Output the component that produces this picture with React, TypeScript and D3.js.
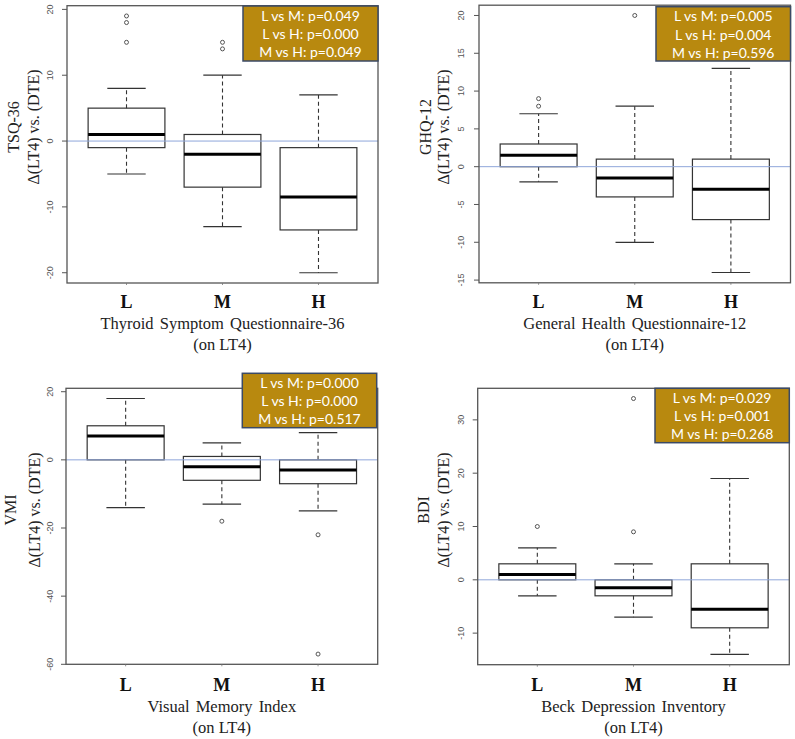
import React from "react";
import * as d3 from "d3";

const groups = ["L", "M", "H"];

// five-number summaries: [lowWhisker, Q1, median, Q3, highWhisker]
const tsqStats = [[-5, -1, 1, 5, 8], [-13, -7, -2, 1, 10], [-20, -13.5, -8.5, -1, 7]];
const tsqOutliers = [[15, 18, 19], [14, 15], []];
const tsqTicks = [-20, -10, 0, 10, 20];
const tsqP = ["L vs M: p=0.049", "L vs H: p=0.000", "M vs H: p=0.049"];

const ghqStats = [[-2, 0, 1.5, 3, 7], [-10, -4, -1.5, 1, 8], [-14, -7, -3, 1, 13]];
const ghqOutliers = [[8, 9], [20], []];
const ghqTicks = [-15, -10, -5, 0, 5, 10, 15, 20];
const ghqP = ["L vs M: p=0.005", "L vs H: p=0.004", "M vs H: p=0.596"];

const vmiStats = [[-14, 0, 7, 10, 18], [-13, -6, -2, 1, 5], [-15, -7, -3, 0, 8]];
const vmiOutliers = [[], [-18], [-22, -57]];
const vmiTicks = [-60, -40, -20, 0, 20];
const vmiP = ["L vs M: p=0.000", "L vs H: p=0.000", "M vs H: p=0.517"];

const bdiStats = [[-3, 0, 1, 3, 6], [-7, -3, -1.5, 0, 3], [-14, -9, -5.5, 3, 19]];
const bdiOutliers = [[10], [9, 34], []];
const bdiTicks = [-10, 0, 10, 20, 30];
const bdiP = ["L vs M: p=0.029", "L vs H: p=0.001", "M vs H: p=0.268"];

const panels = [
  {
    stats: tsqStats, outliers: tsqOutliers, ticks: tsqTicks, pvals: tsqP,
    domain: [-21.56, 20.56], short: "TSQ-36", title: "Thyroid Symptom Questionnaire-36",
    frame: { x0: 67, x1: 378, y0: 5.7, y1: 283 },
    legend: { x0: 243, x1: 378, y0: 6, y1: 61 },
    tickX: 50, labX: [13.5, 33], labY: 127, catY: 308, titleY: 329, subY: 350,
  },
  {
    stats: ghqStats, outliers: ghqOutliers, ticks: ghqTicks, pvals: ghqP,
    domain: [-15.36, 21.36], short: "GHQ-12", title: "General Health Questionnaire-12",
    frame: { x0: 479, x1: 790.5, y0: 5.2, y1: 282.8 },
    legend: { x0: 656, x1: 790.5, y0: 6.7, y1: 61 },
    tickX: 461, labX: [425, 443], labY: 127, catY: 308, titleY: 329, subY: 350,
  },
  {
    stats: vmiStats, outliers: vmiOutliers, ticks: vmiTicks, pvals: vmiP,
    domain: [-60, 21], short: "VMI", title: "Visual Memory Index",
    frame: { x0: 66, x1: 377.7, y0: 388.3, y1: 664.3 },
    legend: { x0: 242.3, x1: 376.7, y0: 373.3, y1: 427.7 },
    tickX: 50, labX: [10, 34], labY: 510, catY: 691, titleY: 712, subY: 733,
  },
  {
    stats: bdiStats, outliers: bdiOutliers, ticks: bdiTicks, pvals: bdiP,
    domain: [-15.92, 35.92], short: "BDI", title: "Beck Depression Inventory",
    frame: { x0: 477.7, x1: 789.3, y0: 388.3, y1: 664.7 },
    legend: { x0: 655, x1: 789.3, y0: 388.3, y1: 442.7 },
    tickX: 461, labX: [423, 443], labY: 510, catY: 691, titleY: 712, subY: 733,
  },
];

const SERIF = "'Liberation Serif', 'Times New Roman', serif";
const SANS = "'Liberation Sans', Arial, sans-serif";
const LEG = "Lato, 'Open Sans', sans-serif";

function Panel({ p }: { p: any }) {
  const { frame, legend } = p;
  const x = d3.scaleLinear().domain([0.38, 3.62]).range([frame.x0, frame.x1]);
  const y = d3.scaleLinear().domain(p.domain).range([frame.y1, frame.y0]);
  const bw = (x(1.4) - x(1)); // half box width (boxwex 0.8)
  const cw = (x(1.2) - x(1)); // half staple width
  const midX = (frame.x0 + frame.x1) / 2;
  return (
    <g>
      {/* boxes */}
      {p.stats.map((s: number[], i: number) => {
        const cx = x(i + 1);
        const [lo, q1, med, q3, hi] = s;
        return (
          <g key={i}>
            <line x1={cx} x2={cx} y1={y(q3)} y2={y(hi)} stroke="#333" strokeWidth={1.1} strokeDasharray="4,3" />
            <line x1={cx} x2={cx} y1={y(q1)} y2={y(lo)} stroke="#333" strokeWidth={1.1} strokeDasharray="4,3" />
            <line x1={cx - cw} x2={cx + cw} y1={y(hi)} y2={y(hi)} stroke="#333" strokeWidth={1.2} />
            <line x1={cx - cw} x2={cx + cw} y1={y(lo)} y2={y(lo)} stroke="#333" strokeWidth={1.2} />
            <rect x={cx - bw} width={2 * bw} y={y(q3)} height={y(q1) - y(q3)} fill="none" stroke="#333" strokeWidth={1.2} />
            <line x1={cx - bw} x2={cx + bw} y1={y(med)} y2={y(med)} stroke="#000" strokeWidth={3} />
            {p.outliers[i].map((o: number, j: number) => (
              <circle key={j} cx={cx} cy={y(o)} r={2} fill="none" stroke="#444" strokeWidth={0.9} />
            ))}
          </g>
        );
      })}
      {/* zero line */}
      <line x1={frame.x0} x2={frame.x1} y1={y(0)} y2={y(0)} stroke="#8FA6DA" strokeWidth={1} />
      {/* frame */}
      <rect x={frame.x0} y={frame.y0} width={frame.x1 - frame.x0} height={frame.y1 - frame.y0} fill="none" stroke="#555" strokeWidth={1.3} />
      {/* y ticks */}
      {p.ticks.map((t: number) => (
        <g key={t}>
          <line x1={frame.x0 - 5} x2={frame.x0} y1={y(t)} y2={y(t)} stroke="#555" strokeWidth={1} />
          <text transform={`translate(${p.tickX},${y(t)}) rotate(-90)`} textAnchor="middle" dominantBaseline="central"
            fontFamily={SANS} fontSize={9} fill="#555">{t}</text>
        </g>
      ))}
      {/* x ticks & category labels */}
      {groups.map((g, i) => (
        <g key={g}>
          <line x1={x(i + 1)} x2={x(i + 1)} y1={frame.y1} y2={frame.y1 + 2} stroke="#777" strokeWidth={0.8} />
          <text x={x(i + 1)} y={p.catY} textAnchor="middle" fontFamily={SERIF} fontWeight="bold" fontSize={18} fill="#111">{g}</text>
        </g>
      ))}
      <text x={midX} y={p.titleY} textAnchor="middle" fontFamily={SERIF} fontSize={16.5} wordSpacing={2} fill="#222">{p.title}</text>
      <text x={midX} y={p.subY} textAnchor="middle" fontFamily={SERIF} fontSize={16.5} fill="#222">(on LT4)</text>
      {/* y labels */}
      <text transform={`translate(${p.labX[0]},${p.labY}) rotate(-90)`} textAnchor="middle" dominantBaseline="central"
        fontFamily={SERIF} fontSize={16} fill="#222">{p.short}</text>
      <text transform={`translate(${p.labX[1]},${p.labY}) rotate(-90)`} textAnchor="middle" dominantBaseline="central"
        fontFamily={SERIF} fontSize={16} fill="#222">Δ(LT4) vs. (DTE)</text>
      {/* legend */}
      <rect x={legend.x0} y={legend.y0} width={legend.x1 - legend.x0} height={legend.y1 - legend.y0}
        fill="#B8890F" stroke="#3B4A66" strokeWidth={1.5} />
      {p.pvals.map((s: string, i: number) => (
        <text key={i} x={(legend.x0 + legend.x1) / 2} y={legend.y0 + 9 + i * 18.3} textAnchor="middle" dominantBaseline="central"
          fontFamily={LEG} fontSize={14} fill="#fff">{s}</text>
      ))}
    </g>
  );
}

export default function App() {
  return (
    <svg width={795} height={739} style={{ position: "absolute", left: 0, top: 0, background: "#fff" }}>
      <rect x={0} y={0} width={795} height={739} fill="#fff" />
      {panels.map((p, i) => <Panel key={i} p={p} />)}
    </svg>
  );
}
